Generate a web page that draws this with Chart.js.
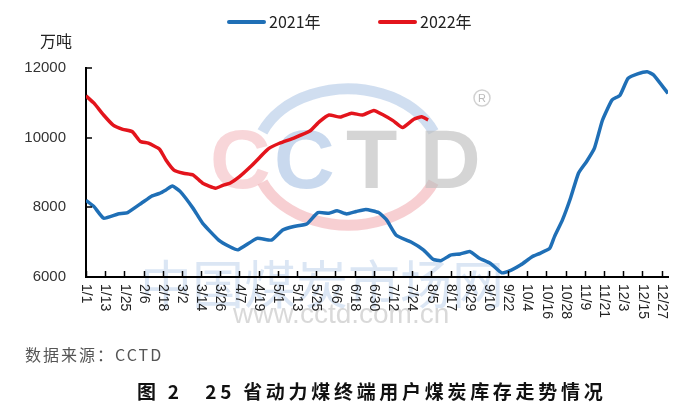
<!DOCTYPE html>
<html lang="zh">
  <head>
    <meta charset="UTF-8" />
    <title>25省动力煤终端用户煤炭库存走势情况</title>
    <script src="https://cdn.jsdelivr.net/npm/chart.js"></script>
    <style>
      body { margin: 0; background: #fff; }
      .wrap { position: relative; width: 696px; height: 416px; overflow: hidden; }
      #chart { position: absolute; left: 0; top: 0; }
      .source {
        position: absolute; left: 25px; top: 342px;
        font: 16px 'Noto Sans CJK SC', sans-serif; color: #555; letter-spacing: 2px;
      }
      .title {
        position: absolute; left: 137px; top: 377px; white-space: nowrap;
        font: bold 19px 'Noto Sans CJK SC', sans-serif; color: #111; letter-spacing: 3.7px;
      }
    </style>
  </head>
  <body>
    <div class="wrap">
      <canvas id="chart" width="696" height="416"></canvas>
      <div class="source">数据来源：CCTD</div>
      <div class="title">图 2　25 省动力煤终端用户煤炭库存走势情况</div>
    </div>

    <script>
      // x axis: day index from 1/1 (0) to 12/31 (364), a label every 12 days
      const tickLabels = ['1/1', '1/13', '1/25', '2/6', '2/18', '3/2', '3/14', '3/26', '4/7', '4/19',
        '5/1', '5/13', '5/25', '6/6', '6/18', '6/30', '7/12', '7/24', '8/5', '8/17', '8/29',
        '9/10', '9/22', '10/4', '10/16', '10/28', '11/9', '11/21', '12/3', '12/15', '12/27'];
      const tickStep = 12;
      const yTicks = [6000, 8000, 10000, 12000];

      // 2021 series (万吨)
      const days2021 = [0, 5, 11, 20, 26, 35, 41, 46, 50, 54, 59, 67, 73, 83, 90, 95, 107, 116, 123, 130,
        138, 145, 152, 157, 163, 169, 175, 183, 188, 194, 203, 211, 217, 222, 228, 234, 240, 246, 253,
        260, 266, 272, 279, 284, 290, 293, 298, 303, 308, 313, 318, 323, 329, 334, 339, 345, 351, 355, 364];
      const values2021 = [8200, 8020, 7690, 7810, 7850, 8130, 8320, 8400, 8500, 8610, 8450, 7970, 7540,
        7060, 6870, 6780, 7110, 7060, 7350, 7450, 7520, 7850, 7830, 7900, 7810, 7880, 7940, 7850, 7640,
        7200, 7010, 6780, 6510, 6470, 6630, 6660, 6730, 6540, 6390, 6120, 6200, 6350, 6580, 6680, 6820,
        7160, 7640, 8260, 8980, 9310, 9700, 10500, 11080, 11220, 11700, 11830, 11890, 11800, 11270];

      // 2022 series (万吨)
      const days2022 = [0, 5, 11, 17, 23, 29, 34, 39, 46, 50, 55, 61, 67, 73, 81, 86, 90, 96, 103, 109,
        114, 121, 130, 140, 146, 152, 159, 166, 173, 180, 186, 192, 198, 205, 210, 214];
      const values2022 = [11200, 10990, 10650, 10360, 10240, 10170, 9890, 9840, 9670, 9360, 9070, 8980,
        8930, 8690, 8550, 8640, 8690, 8880, 9170, 9450, 9680, 9840, 9990, 10190, 10460, 10650, 10590,
        10700, 10650, 10780, 10650, 10490, 10290, 10530, 10600, 10510];

      const toPoints = (days, values) => days.map((d, i) => ({ x: d, y: values[i] }));

      const BLUE = '#1F6FB6';
      const RED = '#E3141C';

      // watermark, axis ticks, rotated labels, legend and unit
      const decor = {
        id: 'decor',
        beforeDraw(chart) {
          const ctx = chart.ctx;
          ctx.save();
          // logo rings
          ctx.lineWidth = 11;
          ctx.strokeStyle = 'rgba(170,195,228,0.55)';
          ctx.beginPath();
          ctx.ellipse(348, 157, 92, 68, 0, Math.PI * 1.12, Math.PI * 1.88);
          ctx.stroke();
          ctx.strokeStyle = 'rgba(240,160,165,0.5)';
          ctx.beginPath();
          ctx.ellipse(348, 157, 92, 68, 0, Math.PI * 0.12, Math.PI * 0.88);
          ctx.stroke();
          // letters
          ctx.font = 'bold 84px "Liberation Sans", sans-serif';
          ctx.textBaseline = 'alphabetic';
          ctx.fillStyle = 'rgba(240,165,170,0.45)';
          ctx.fillText('C', 210, 188);
          ctx.fillStyle = 'rgba(165,192,226,0.6)';
          ctx.fillText('C', 274, 188);
          ctx.fillStyle = 'rgba(190,190,190,0.65)';
          ctx.fillText('T', 346, 188);
          ctx.fillText('D', 420, 188);
          ctx.lineWidth = 1.5;
          ctx.strokeStyle = 'rgba(190,190,190,0.7)';
          ctx.beginPath();
          ctx.arc(482, 98, 8, 0, Math.PI * 2);
          ctx.stroke();
          ctx.font = '11px "Liberation Sans", sans-serif';
          ctx.fillStyle = 'rgba(170,170,170,0.8)';
          ctx.textAlign = 'center';
          ctx.textBaseline = 'middle';
          ctx.fillText('R', 482, 98.5);
          ctx.font = '52px "Noto Sans CJK SC", sans-serif';
          ctx.fillStyle = 'rgba(175,200,230,0.45)';
          ctx.textAlign = 'left';
          ctx.fillText('中国煤炭市场网', 140, 284);
          ctx.font = '28px "Liberation Sans", sans-serif';
          ctx.fillStyle = 'rgba(185,185,185,0.55)';
          ctx.fillText('www.cctd.com.cn', 233, 315);
          ctx.restore();
        },
        afterDraw(chart) {
          const { ctx, scales: { x, y } } = chart;
          const base = y.getPixelForValue(6000);
          const left = x.getPixelForValue(0);
          ctx.save();
          ctx.strokeStyle = '#000';
          ctx.lineWidth = 1.5;
          tickLabels.forEach((_, i) => {
            const px = Math.round(x.getPixelForValue(i * tickStep)) + 0.5;
            ctx.beginPath();
            ctx.moveTo(px, base);
            ctx.lineTo(px, base - 6);
            ctx.stroke();
          });
          yTicks.forEach(v => {
            const py = Math.round(y.getPixelForValue(v));
            ctx.beginPath();
            ctx.moveTo(left, py);
            ctx.lineTo(left + 6, py);
            ctx.stroke();
          });
          // x labels, turned clockwise
          ctx.fillStyle = '#222';
          ctx.font = '14px "Liberation Sans", sans-serif';
          ctx.textAlign = 'left';
          ctx.textBaseline = 'middle';
          tickLabels.forEach((label, i) => {
            ctx.save();
            ctx.translate(x.getPixelForValue(i * tickStep), base + 7);
            ctx.rotate(Math.PI / 2);
            ctx.fillText(label, 0, 0);
            ctx.restore();
          });
          // legend
          ctx.font = '16px "Noto Sans CJK SC", sans-serif';
          ctx.lineWidth = 4;
          ctx.lineCap = 'round';
          const items = [[229, chart.data.datasets[0]], [380, chart.data.datasets[1]]];
          items.forEach(([lx, ds]) => {
            ctx.strokeStyle = ds.borderColor;
            ctx.beginPath();
            ctx.moveTo(lx, 22);
            ctx.lineTo(lx + 35, 22);
            ctx.stroke();
            ctx.fillStyle = '#222';
            ctx.fillText(ds.label, lx + 40, 22);
          });
          ctx.fillText('万吨', 40, 41);
          ctx.restore();
        }
      };

      new Chart(document.getElementById('chart'), {
        type: 'line',
        data: {
          datasets: [
            { label: '2021年', data: toPoints(days2021, values2021), borderColor: BLUE, borderWidth: 3.5, tension: 0.15 },
            { label: '2022年', data: toPoints(days2022, values2022), borderColor: RED, borderWidth: 3.5, tension: 0.15 }
          ]
        },
        options: {
          responsive: false,
          animation: false,
          layout: { padding: { top: 68, right: 28, left: 0, bottom: 0 } },
          elements: { point: { radius: 0 } },
          plugins: { legend: { display: false }, tooltip: { enabled: false } },
          scales: {
            x: {
              type: 'linear', min: 0, max: 364,
              ticks: { display: false },
              grid: { display: false },
              border: { display: true, color: '#000', width: 2 },
              afterFit: s => { s.height = 139; }
            },
            y: {
              min: 6000, max: 12000,
              ticks: {
                stepSize: 2000, padding: 12, color: '#333',
                font: { family: 'Liberation Sans', size: 15 },
                callback: v => String(v)
              },
              grid: { display: false },
              border: { display: true, color: '#000', width: 2 },
              afterFit: s => { s.width = 86; }
            }
          }
        },
        plugins: [decor]
      });
    </script>
  </body>
</html>
